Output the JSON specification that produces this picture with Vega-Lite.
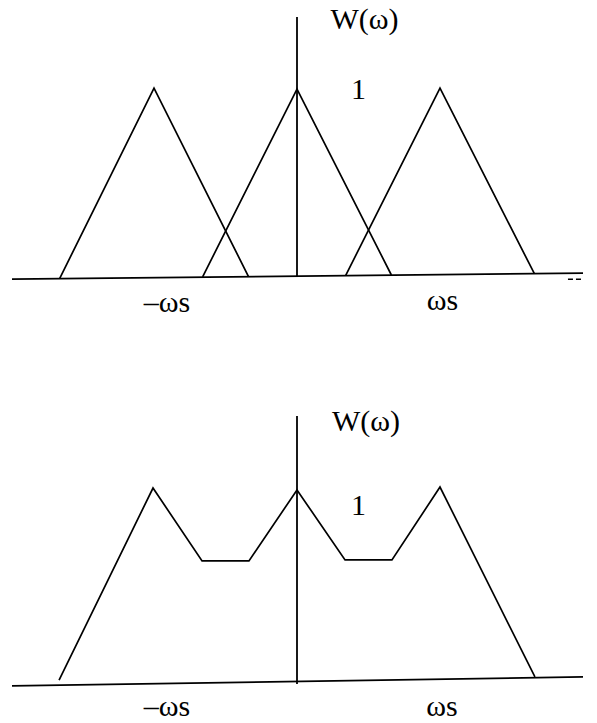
{
  "$schema": "https://vega.github.io/schema/vega-lite/v6.json",
  "padding": 0,
  "background": "white",
  "spacing": 0,
  "config": {"view": {"stroke": null}, "concat": {"spacing": 0}},
  "datasets": {
    "topAxes": [
      {"part": "baseline", "x": -1.993, "y": -0.011, "x2": 2.0, "y2": 0.021},
      {"part": "vertical", "x": 0.0, "y": 0.0, "x2": 0.0, "y2": 1.376}
    ],
    "topTick": [
      {"x": 1.895, "y": -0.011, "x2": 1.999, "y2": -0.011}
    ],
    "triangles": [
      {"tri": "left", "i": 0, "w": -1.66, "v": -0.008},
      {"tri": "left", "i": 1, "w": -1.0, "v": 1.0},
      {"tri": "left", "i": 2, "w": -0.34, "v": 0.004},
      {"tri": "center", "i": 0, "w": -0.66, "v": 0.001},
      {"tri": "center", "i": 1, "w": 0.0, "v": 0.995},
      {"tri": "center", "i": 2, "w": 0.66, "v": 0.011},
      {"tri": "right", "i": 0, "w": 0.34, "v": 0.008},
      {"tri": "right", "i": 1, "w": 1.0, "v": 1.0},
      {"tri": "right", "i": 2, "w": 1.66, "v": 0.018}
    ],
    "topTitles": [
      {"label": "W(ω)", "x": 0.472, "y": 1.36},
      {"label": "1", "x": 0.43, "y": 0.989}
    ],
    "topTicks": [
      {"label": "–ωs", "x": -0.909, "y": -0.185},
      {"label": "ωs", "x": 1.017, "y": -0.175}
    ],
    "bottomAxes": [
      {"part": "baseline", "x": -1.993, "y": -0.01, "x2": 2.0, "y2": 0.036},
      {"part": "vertical", "x": 0.0, "y": 0.0, "x2": 0.0, "y2": 1.367}
    ],
    "combined": [
      {"i": 0, "w": -1.664, "v": 0.02},
      {"i": 1, "w": -1.007, "v": 1.0},
      {"i": 2, "w": -0.664, "v": 0.628},
      {"i": 3, "w": -0.336, "v": 0.628},
      {"i": 4, "w": 0.0, "v": 0.99},
      {"i": 5, "w": 0.336, "v": 0.633},
      {"i": 6, "w": 0.664, "v": 0.633},
      {"i": 7, "w": 1.0, "v": 1.005},
      {"i": 8, "w": 1.664, "v": 0.036}
    ],
    "bottomTitles": [
      {"label": "W(ω)", "x": 0.483, "y": 1.339},
      {"label": "1", "x": 0.43, "y": 0.908}
    ],
    "bottomTicks": [
      {"label": "–ωs", "x": -0.909, "y": -0.165},
      {"label": "ωs", "x": 1.014, "y": -0.163}
    ]
  },
  "vconcat": [
    {
      "width": 597,
      "height": 361,
      "layer": [
        {
          "data": {"name": "topAxes"},
          "mark": {"type": "rule", "color": "black", "strokeWidth": 1.8},
          "encoding": {
            "x": {"field": "x", "type": "quantitative", "axis": null, "scale": {"domain": [-2.077, 2.098], "nice": false, "zero": false}},
            "x2": {"field": "x2"},
            "y": {"field": "y", "type": "quantitative", "axis": null, "scale": {"domain": [-0.444, 1.466], "nice": false, "zero": false}},
            "y2": {"field": "y2"}
          }
        },
        {
          "data": {"name": "topTick"},
          "mark": {"type": "rule", "color": "black", "strokeWidth": 1.5, "strokeDash": [5, 3]},
          "encoding": {
            "x": {"field": "x", "type": "quantitative", "axis": null, "scale": {"domain": [-2.077, 2.098], "nice": false, "zero": false}},
            "x2": {"field": "x2"},
            "y": {"field": "y", "type": "quantitative", "axis": null, "scale": {"domain": [-0.444, 1.466], "nice": false, "zero": false}},
            "y2": {"field": "y2"}
          }
        },
        {
          "data": {"name": "triangles"},
          "mark": {"type": "line", "color": "black", "strokeWidth": 1.7},
          "encoding": {
            "x": {"field": "w", "type": "quantitative", "axis": null, "scale": {"domain": [-2.077, 2.098], "nice": false, "zero": false}},
            "y": {"field": "v", "type": "quantitative", "axis": null, "scale": {"domain": [-0.444, 1.466], "nice": false, "zero": false}},
            "detail": {"field": "tri"},
            "order": {"field": "i"}
          }
        },
        {
          "data": {"name": "topTitles"},
          "mark": {"type": "text", "font": "Liberation Serif", "fontSize": 30, "color": "black", "align": "center", "baseline": "middle"},
          "encoding": {
            "x": {"field": "x", "type": "quantitative", "axis": null, "scale": {"domain": [-2.077, 2.098], "nice": false, "zero": false}},
            "y": {"field": "y", "type": "quantitative", "axis": null, "scale": {"domain": [-0.444, 1.466], "nice": false, "zero": false}},
            "text": {"field": "label"}
          }
        },
        {
          "data": {"name": "topTicks"},
          "mark": {"type": "text", "font": "Liberation Serif", "fontSize": 30, "color": "black", "align": "center", "baseline": "alphabetic"},
          "encoding": {
            "x": {"field": "x", "type": "quantitative", "axis": null, "scale": {"domain": [-2.077, 2.098], "nice": false, "zero": false}},
            "y": {"field": "y", "type": "quantitative", "axis": null, "scale": {"domain": [-0.444, 1.466], "nice": false, "zero": false}},
            "text": {"field": "label"}
          }
        }
      ]
    },
    {
      "width": 597,
      "height": 362,
      "layer": [
        {
          "data": {"name": "bottomAxes"},
          "mark": {"type": "rule", "color": "black", "strokeWidth": 1.8},
          "encoding": {
            "x": {"field": "x", "type": "quantitative", "axis": null, "scale": {"domain": [-2.077, 2.098], "nice": false, "zero": false}},
            "x2": {"field": "x2"},
            "y": {"field": "y", "type": "quantitative", "axis": null, "scale": {"domain": [-0.199, 1.648], "nice": false, "zero": false}},
            "y2": {"field": "y2"}
          }
        },
        {
          "data": {"name": "combined"},
          "mark": {"type": "line", "color": "black", "strokeWidth": 1.7},
          "encoding": {
            "x": {"field": "w", "type": "quantitative", "axis": null, "scale": {"domain": [-2.077, 2.098], "nice": false, "zero": false}},
            "y": {"field": "v", "type": "quantitative", "axis": null, "scale": {"domain": [-0.199, 1.648], "nice": false, "zero": false}},
            "order": {"field": "i"}
          }
        },
        {
          "data": {"name": "bottomTitles"},
          "mark": {"type": "text", "font": "Liberation Serif", "fontSize": 30, "color": "black", "align": "center", "baseline": "middle"},
          "encoding": {
            "x": {"field": "x", "type": "quantitative", "axis": null, "scale": {"domain": [-2.077, 2.098], "nice": false, "zero": false}},
            "y": {"field": "y", "type": "quantitative", "axis": null, "scale": {"domain": [-0.199, 1.648], "nice": false, "zero": false}},
            "text": {"field": "label"}
          }
        },
        {
          "data": {"name": "bottomTicks"},
          "mark": {"type": "text", "font": "Liberation Serif", "fontSize": 30, "color": "black", "align": "center", "baseline": "alphabetic"},
          "encoding": {
            "x": {"field": "x", "type": "quantitative", "axis": null, "scale": {"domain": [-2.077, 2.098], "nice": false, "zero": false}},
            "y": {"field": "y", "type": "quantitative", "axis": null, "scale": {"domain": [-0.199, 1.648], "nice": false, "zero": false}},
            "text": {"field": "label"}
          }
        }
      ]
    }
  ]
}
